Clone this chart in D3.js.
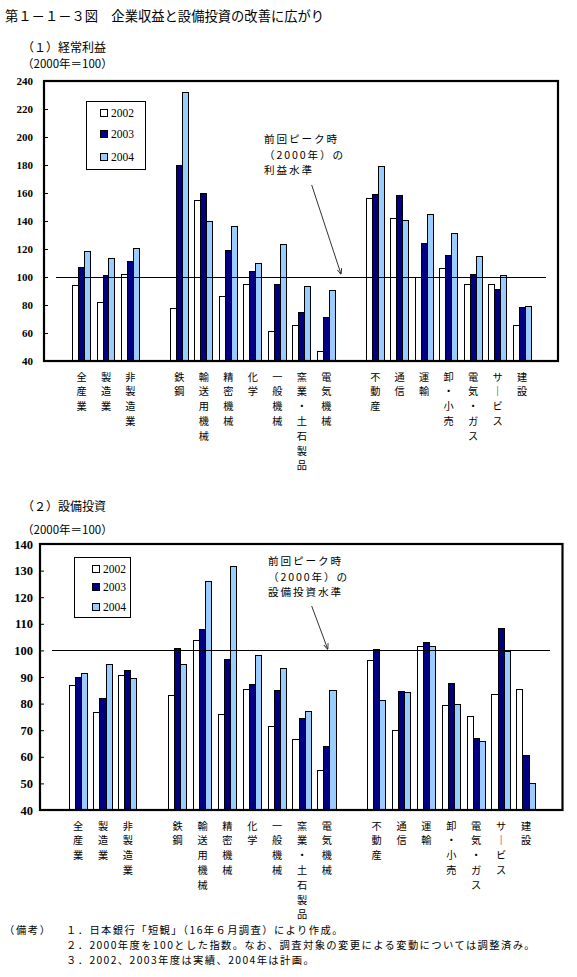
<!DOCTYPE html>
<html><head><meta charset="utf-8">
<script src="https://cdn.jsdelivr.net/npm/d3@7"></script>
<style>
body{margin:0;background:#fff;}
#wrap{position:relative;width:577px;height:977px;}
svg{display:block;font-family:"Noto Sans CJK JP","Noto Sans",sans-serif;}
.blk{position:absolute;font-family:"Noto Sans CJK JP","Noto Sans",sans-serif;white-space:pre;color:#000;overflow:visible;}
</style></head>
<body>
<div id="wrap"><svg id="c" width="577" height="977"></svg></div>
<script>
// ---- data ----
const categoryGroups = [
  ["全産業","製造業","非製造業"],
  ["鉄鋼","輸送用機械","精密機械","化学","一般機械","窯業・土石製品","電気機械"],
  ["不動産","通信","運輸","卸・小売","電気・ガス","サービス","建設"]
];
const years = ["2002","2003","2004"];
const profit2002 = [93.6, 82.1, 102.1, 77.6, 154.3, 86.4, 95, 61.4, 65.7, 47.1, 156.4, 142.1, 100, 106.4, 95, 94.3, 65.7];
const profit2003 = [107, 101.4, 111.4, 179.3, 160, 118.6, 103.6, 95, 75, 71.4, 158.6, 157.9, 123.6, 115.7, 102.1, 91.4, 77.9];
const profit2004 = [117.9, 113.3, 120.5, 232.1, 140, 136.4, 109.3, 122.9, 92.9, 90.7, 178.6, 140.7, 144.3, 131.4, 114.3, 101.4, 78.6];
const invest2002 = [86.9, 76.7, 90.6, 83.1, 103.7, 76, 85.4, 71.5, 66.5, 55, 96.2, 70, 101.5, 79.4, 75.2, 83.5, 85.4];
const invest2003 = [89.9, 82, 92.5, 100.7, 107.9, 96.6, 87.2, 85, 74.4, 63.9, 100.4, 84.6, 103, 87.6, 67, 108.2, 60.6];
const invest2004 = [91.4, 94.7, 89.5, 94.7, 125.9, 131.5, 98.1, 93.2, 77.1, 85, 81.1, 84.1, 101.5, 79.7, 65.9, 99.6, 50.1];
const profitTicks = [40,60,80,100,120,140,160,180,200,220,240];
const investTicks = [40,50,60,70,80,90,100,110,120,130,140];
const referenceLevel = 100;
const title = "第１－１－３図　企業収益と設備投資の改善に広がり";
const notes = ["１．日本銀行「短観」（16年６月調査）により作成。",
  "２．2000年度を100とした指数。なお、調査対象の変更による変動については調整済み。",
  "３．2002、2003年度は実績、2004年は計画。"];

const colors = ["#ffffff","#000080","#99ccff"];
const categories = categoryGroups.flat();
// band domain with spacer slots
const slots = ["_p0"];
categoryGroups.forEach((g,i)=>{ if(i>0) slots.push("_g"+i); slots.push(...g); });
slots.push("_p9");

const svg = d3.select("#c");
const wrap = d3.select("#wrap");

svg.append("text").attr("x",5).attr("y",15).attr("dominant-baseline","central")
  .attr("font-size",13.3).text(title);

// one text line as an html box whose height equals its line pitch
function line(x, yCenter, lineH, size, s, anchorMiddle, spacing){
  const d = wrap.append("div").attr("class","blk")
    .style("top", (yCenter - lineH/2)+"px")
    .style("height", lineH+"px")
    .style("font-size", size+"px").style("line-height", lineH+"px")
    .style("letter-spacing", (spacing||0)+"px")
    .text(s);
  if(anchorMiddle){ d.style("left",(x-10)+"px").style("width","20px").style("text-align","center"); }
  else { d.style("left", x+"px"); }
}

function drawChart(o){
  const g = svg.append("g");
  const x = d3.scaleBand().domain(slots).range([o.left,o.right]).paddingInner(0).paddingOuter(0);
  const x1 = d3.scaleBand().domain(years).range([0,x.bandwidth()]).paddingInner(0).paddingOuter(0.55);
  const y = d3.scaleLinear().domain([o.ticks[0],o.ticks[o.ticks.length-1]]).range([o.bottom,o.top]);

  g.append("text").attr("x",22).attr("y",o.subY).attr("dominant-baseline","central")
    .attr("font-size",12).text(o.subtitle);
  g.append("text").attr("x",22).attr("y",o.unitY).attr("dominant-baseline","central")
    .attr("font-size",11.5).text("（2000年＝100）");

  // bars
  const series = o.series;
  categories.forEach((c,i)=>{
    years.forEach((yr,j)=>{
      const v = series[j][i];
      g.append("rect")
        .attr("x", x(c)+x1(yr)+0.8)
        .attr("y", y(v))
        .attr("width", x1.bandwidth())
        .attr("height", y(o.ticks[0]) - y(v))
        .attr("fill", colors[j]).attr("stroke","#000").attr("stroke-width",1)
        .attr("shape-rendering","crispEdges");
    });
  });

  // reference line
  g.append("line")
    .attr("x1", x("_p0")+x.bandwidth()/2).attr("x2", x("_p9")+x.bandwidth()/2)
    .attr("y1", y(referenceLevel)).attr("y2", y(referenceLevel))
    .attr("stroke","#000").attr("stroke-width",1).attr("shape-rendering","crispEdges");

  // axis
  const ax = g.append("g").attr("transform",`translate(${o.left},0)`)
    .call(d3.axisLeft(y).tickValues(o.ticks).tickSize(-4).tickPadding(o.tickPad).tickFormat(d3.format("d")));
  ax.select(".domain").remove();
  ax.selectAll("line").attr("stroke","#000");
  ax.selectAll("text").attr("font-size",o.tickFont).attr("fill","#000")
    .attr("font-family",'"Liberation Serif","DejaVu Serif",serif').attr("font-weight","bold");

  // frame
  g.append("rect").attr("x",o.left).attr("y",o.top).attr("width",o.right-o.left).attr("height",o.bottom-o.top)
    .attr("fill","none").attr("stroke","#000").attr("stroke-width",2.2);

  // category labels, one character per row
  categories.forEach(c=>{
    const cx = x(c)+x.bandwidth()/2+0.8;
    Array.from(c).forEach((ch,k)=>{
      line(cx, o.labelY + k*14.8, 14.8, 10.2, ch==="ー" ? "｜" : ch, true, 0);
    });
  });

  // legend
  const L = o.legend;
  g.append("rect").attr("x",L.x).attr("y",L.y).attr("width",L.w).attr("height",L.h)
    .attr("fill","#fff").attr("stroke","#000").attr("stroke-width",1).attr("shape-rendering","crispEdges");
  years.forEach((yr,j)=>{
    const cy = L.rows[j];
    g.append("rect").attr("x",L.sx).attr("y",cy-3.5).attr("width",7).attr("height",7)
      .attr("fill",colors[j]).attr("stroke","#000").attr("stroke-width",1).attr("shape-rendering","crispEdges");
    g.append("text").attr("x",L.sx+11).attr("y",cy).attr("dominant-baseline","central")
      .attr("font-size",11.5).attr("font-family",'"Liberation Serif","DejaVu Serif",serif').text(yr);
  });

  // annotation
  const A = o.annot;
  A.lines.forEach((s,k)=> line(A.x, A.y0 + k*15.5, 15.5, 10.6, s, false, 1.9));
  g.append("line").attr("x1",A.ax1).attr("y1",A.ay1).attr("x2",A.ax2).attr("y2",A.ay2)
    .attr("stroke","#333").attr("stroke-width",1).attr("marker-end","url(#arr)");
}

svg.append("defs").append("marker").attr("id","arr").attr("viewBox","0 0 10 10")
  .attr("refX",9).attr("refY",5).attr("markerWidth",6).attr("markerHeight",6).attr("orient","auto")
  .append("path").attr("d","M0,1 L10,5 L0,9").attr("fill","none").attr("stroke","#333").attr("stroke-width",1.5);

drawChart({
  subtitle:"（１）経常利益", subY:46, unitY:63,
  left:44, right:558, top:81, bottom:361,
  ticks:profitTicks, tickPad:11, tickFont:11,
  series:[profit2002,profit2003,profit2004],
  labelY:377,
  legend:{x:86,y:101,w:59,h:68,sx:100,rows:[112.7,134.3,156.7]},
  annot:{x:264,y0:139,lines:["前回ピーク時","（2000年）の","利益水準"],ax1:311.7,ay1:185,ax2:341,ay2:274}
});
drawChart({
  subtitle:"（２）設備投資", subY:505, unitY:529,
  left:40, right:562.5, top:544, bottom:810,
  ticks:investTicks, tickPad:7, tickFont:12.5,
  series:[invest2002,invest2003,invest2004],
  labelY:826,
  legend:{x:74,y:557,w:56,h:60,sx:92,rows:[568.7,587,607.3]},
  annot:{x:268,y0:561,lines:["前回ピーク時","（2000年）の","設備投資水準"],ax1:311.7,ay1:606,ax2:327.7,ay2:649}
});

// notes
line(4, 929, 15, 10.3, "（備考）", false, 1.6);
notes.forEach((n,k)=> line(66, 929 + k*15, 15, 10.3, n, false, 1.4));
</script>
</body></html>
